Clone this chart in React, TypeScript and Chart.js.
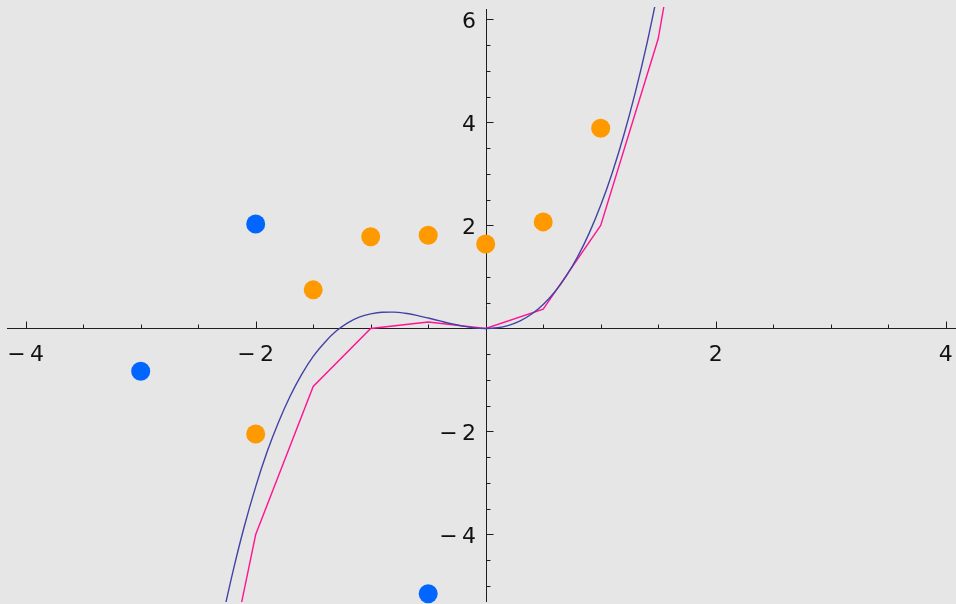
import React, { useEffect, useRef } from "react";
import { Chart, registerables } from "chart.js";

Chart.register(...registerables);

// Scatter points
const orangeX = [-2, -1.5, -1, -0.5, 0, 0.5, 1];
const orangeY = [-2.05, 0.75, 1.78, 1.81, 1.64, 2.07, 3.89];
const blueX = [-3, -2, -0.5];
const blueY = [-0.83, 2.03, -5.15];

// Smooth (indigo) curve
const curveX = [
  -2.3, -2.2, -2.1, -2.0, -1.9, -1.8, -1.7, -1.6, -1.5, -1.4, -1.3, -1.2, -1.1, -1.0,
  -0.9, -0.8, -0.7, -0.6, -0.5, -0.4, -0.3, -0.2, -0.1, 0, 0.1, 0.2, 0.3, 0.4, 0.5,
  0.6, 0.7, 0.8, 0.9, 1.0, 1.1, 1.2, 1.3, 1.4, 1.5,
];
const curveY = [
  -5.73, -4.74, -3.85, -3.07, -2.39, -1.81, -1.31, -0.89, -0.54, -0.27, -0.05, 0.11,
  0.22, 0.285, 0.316, 0.317, 0.295, 0.255, 0.203, 0.147, 0.092, 0.046, 0.012, 0, 0.014,
  0.062, 0.148, 0.281, 0.467, 0.709, 1.017, 1.395, 1.852, 2.391, 3.021, 3.747, 4.574,
  5.511, 6.565,
];

// Polyline (magenta)
const polyX = [-2.5, -2, -1.5, -1, -0.5, 0, 0.5, 1, 1.5, 2];
const polyY = [-9.375, -4, -1.125, 0, 0.125, 0, 0.375, 2, 5.625, 12];

// Axes ticks
const xMajorTicks = [-4, -2, 2, 4];
const xMinorTicks = [-3.5, -3, -2.5, -1.5, -1, -0.5, 0.5, 1, 1.5, 2.5, 3, 3.5];
const yMajorTicks = [-4, -2, 2, 4, 6];
const yMinorTicks = [-5, -4.5, -3.5, -3, -2.5, -1.5, -1, -0.5, 0.5, 1, 1.5, 2.5, 3, 3.5, 4.5, 5, 5.5];

const X_MIN = -4.1626;
const X_MAX = 4.0635;
const Y_MIN = -5.3107;
const Y_MAX = 6.2427;

const fmt = (v: number) => (v < 0 ? "\u2212\u2009" + Math.abs(v) : String(v));

const axesPlugin = {
  id: "mmaAxes",
  beforeDraw(chart: any) {
    const ctx = chart.ctx;
    ctx.save();
    ctx.fillStyle = "#e6e6e6";
    ctx.fillRect(0, 0, chart.width, chart.height);
    ctx.restore();
  },
  beforeDatasetsDraw(chart: any) {
    const ctx = chart.ctx;
    const xs = chart.scales.x;
    const ys = chart.scales.y;
    const area = chart.chartArea;
    const x0 = Math.round(xs.getPixelForValue(0)) + 0.5;
    const y0 = Math.round(ys.getPixelForValue(0)) + 0.5;
    ctx.save();
    ctx.strokeStyle = "#1e1e1e";
    ctx.lineWidth = 1;
    ctx.beginPath();
    ctx.moveTo(area.left, y0);
    ctx.lineTo(area.right + 3, y0);
    ctx.moveTo(x0, area.top + 2);
    ctx.lineTo(x0, area.bottom);
    // x ticks (pointing up)
    xMajorTicks.forEach((v) => {
      const p = Math.round(xs.getPixelForValue(v)) + 0.5;
      ctx.moveTo(p, y0);
      ctx.lineTo(p, y0 - 7);
    });
    xMinorTicks.forEach((v) => {
      const p = Math.round(xs.getPixelForValue(v)) + 0.5;
      ctx.moveTo(p, y0);
      ctx.lineTo(p, y0 - 4);
    });
    // y ticks (pointing right)
    yMajorTicks.forEach((v) => {
      const p = Math.round(ys.getPixelForValue(v)) + 0.5;
      ctx.moveTo(x0, p);
      ctx.lineTo(x0 + 7, p);
    });
    yMinorTicks.forEach((v) => {
      const p = Math.round(ys.getPixelForValue(v)) + 0.5;
      ctx.moveTo(x0, p);
      ctx.lineTo(x0 + 4, p);
    });
    ctx.stroke();

    ctx.fillStyle = "#111";
    ctx.font = '22px "DejaVu Sans"';
    ctx.textBaseline = "alphabetic";
    ctx.textAlign = "center";
    xMajorTicks.forEach((v) => {
      const p = xs.getPixelForValue(v);
      ctx.fillText(fmt(v), p, y0 + 32);
    });
    ctx.textAlign = "right";
    yMajorTicks.forEach((v) => {
      const p = ys.getPixelForValue(v);
      ctx.fillText(fmt(v), x0 - 10.5, p + 9);
    });
    ctx.restore();
  },
};

export default function App() {
  const ref = useRef<HTMLCanvasElement | null>(null);

  useEffect(() => {
    document.body.style.margin = "0";
    document.body.style.background = "#e6e6e6";
    if (!ref.current) return;
    const chart = new Chart(ref.current, {
      type: "scatter",
      data: {
        datasets: [
          {
            type: "scatter",
            data: blueX.map((x, i) => ({ x, y: blueY[i] })),
            backgroundColor: "#0066ff",
            borderWidth: 0,
            pointRadius: 9.5,
            pointHoverRadius: 9.5,
            clip: false,
          } as any,
          {
            type: "scatter",
            data: orangeX.map((x, i) => ({ x, y: orangeY[i] })),
            backgroundColor: "#ff9900",
            borderWidth: 0,
            pointRadius: 9.5,
            pointHoverRadius: 9.5,
            clip: false,
          } as any,
          {
            type: "line",
            data: curveX.map((x, i) => ({ x, y: curveY[i] })),
            borderColor: "#4343a6",
            borderWidth: 1.4,
            pointRadius: 0,
            fill: false,
            tension: 0.4,
            cubicInterpolationMode: "monotone",
          } as any,
          {
            type: "line",
            data: polyX.map((x, i) => ({ x, y: polyY[i] })),
            borderColor: "#ff1493",
            borderWidth: 1.4,
            pointRadius: 0,
            fill: false,
            tension: 0,
          } as any,
        ],
      },
      options: {
        responsive: false,
        animation: false,
        devicePixelRatio: 1,
        layout: { autoPadding: false, padding: { left: 7, right: 3, top: 7, bottom: 2 } },
        plugins: { legend: { display: false }, tooltip: { enabled: false } },
        events: [],
        scales: {
          x: { type: "linear", min: X_MIN, max: X_MAX, display: false },
          y: { type: "linear", min: Y_MIN, max: Y_MAX, display: false },
        },
      },
      plugins: [axesPlugin],
    });
    return () => chart.destroy();
  }, []);

  return (
    <div style={{ position: "fixed", left: 0, top: 0, width: 956, height: 604, background: "#e6e6e6" }}>
      <canvas ref={ref} width={956} height={604} />
    </div>
  );
}
